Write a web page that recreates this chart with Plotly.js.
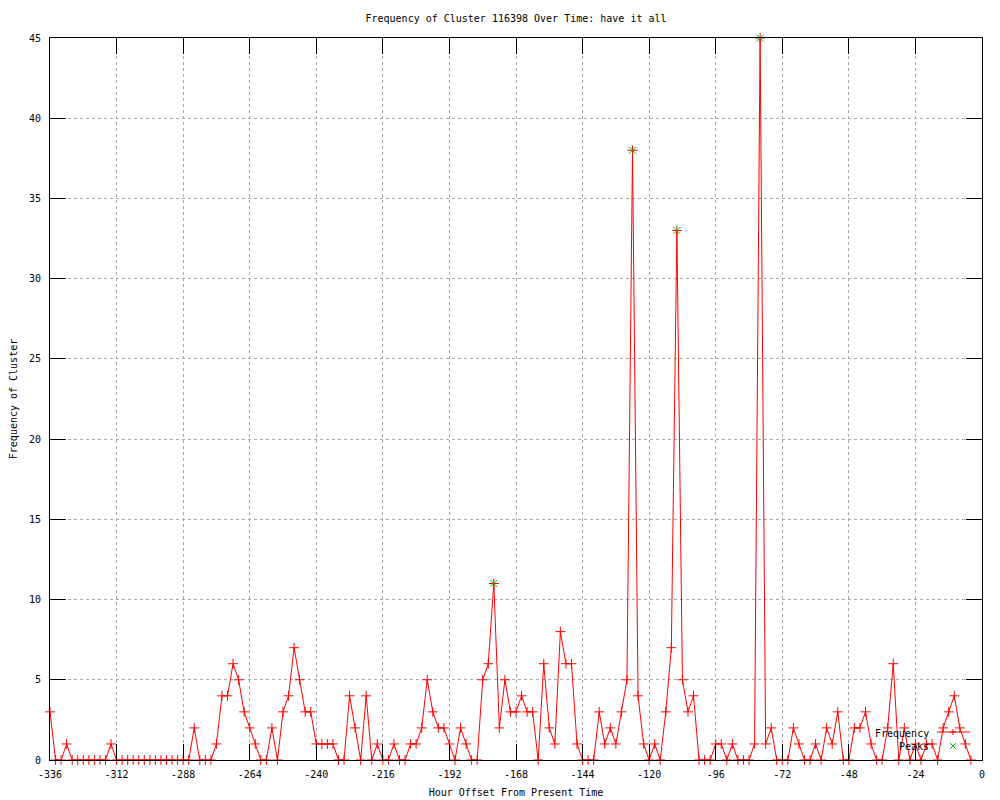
<!DOCTYPE html>
<html>
<head>
<meta charset="utf-8">
<script src="https://cdn.plot.ly/plotly-3.0.1.min.js"></script>
<style>
html,body{margin:0;padding:0;background:#fff;}
#chart{width:1000px;height:800px;}
</style>
</head>
<body>
<div id="chart"></div>
<script>
const hours = [
-336,-334,-332,-330,-328,-326,-324,-322,-320,-318,-316,-314,
-312,-310,-308,-306,-304,-302,-300,-298,-296,-294,-292,-290,
-288,-286,-284,-282,-280,-278,-276,-274,-272,-270,-268,-266,
-264,-262,-260,-258,-256,-254,-252,-250,-248,-246,-244,-242,
-240,-238,-236,-234,-232,-230,-228,-226,-224,-222,-220,-218,
-216,-214,-212,-210,-208,-206,-204,-202,-200,-198,-196,-194,
-192,-190,-188,-186,-184,-182,-180,-178,-176,-174,-172,-170,
-168,-166,-164,-162,-160,-158,-156,-154,-152,-150,-148,-146,
-144,-142,-140,-138,-136,-134,-132,-130,-128,-126,-124,-122,
-120,-118,-116,-114,-112,-110,-108,-106,-104,-102,-100,-98,
-96,-94,-92,-90,-88,-86,-84,-82,-80,-78,-76,-74,
-72,-70,-68,-66,-64,-62,-60,-58,-56,-54,-52,-50,
-48,-46,-44,-42,-40,-38,-36,-34,-32,-30,-28,-26,
-24,-22,-20,-18,-16,-14,-12,-10,-8,-6,-4
];
const frequency = [
3,0,0,1,0,0,0,0,0,0,0,1,
0,0,0,0,0,0,0,0,0,0,0,0,
0,0,2,0,0,0,1,4,4,6,5,3,
2,1,0,0,2,0,3,4,7,5,3,3,
1,1,1,1,0,0,4,2,0,4,0,1,
0,0,1,0,0,1,1,2,5,3,2,2,
1,0,2,1,0,0,5,6,11,2,5,3,
3,4,3,3,0,6,2,1,8,6,6,1,
0,0,0,3,1,2,1,3,5,38,4,1,
0,1,0,3,7,33,5,3,4,0,0,0,
1,1,0,1,0,0,0,1,45,1,2,0,
0,0,2,1,0,0,1,0,2,1,3,0,
0,2,2,3,1,0,0,2,6,0,2,0,
1,0,1,1,0,2,3,4,2,1,0
];
const peakHours = [-176, -126, -110, -80];
const peakValues = [11, 38, 33, 45];
const xTicks = [-336,-312,-288,-264,-240,-216,-192,-168,-144,-120,-96,-72,-48,-24,0];
const yTicks = [0,5,10,15,20,25,30,35,40,45];

const FONT = "DejaVu Sans Mono, Liberation Mono, monospace";
const RED = "#ff0000";
const GREEN = "#00c000";

const traces = [
  {
    x: hours, y: frequency, type: "scatter", mode: "lines+markers",
    name: "Frequency", cliponaxis: false,
    line: {color: RED, width: 1},
    marker: {symbol: "cross-thin-open", size: 7, line: {color: RED, width: 1}, color: RED}
  },
  {
    x: peakHours, y: peakValues, type: "scatter", mode: "markers",
    name: "Peaks", cliponaxis: false,
    marker: {symbol: "x-thin-open", size: 7, line: {color: GREEN, width: 1}, color: GREEN}
  }
];

// legend drawn gnuplot-style (text left, sample right), in paper coordinates
function px(xp){ return (xp - 50) / 932; }
function py(yp){ return (760 - yp) / 722; }

const shapes = [
  {type: "line", xref: "paper", yref: "paper", x0: px(937), x1: px(970), y0: py(732), y1: py(732), line: {color: RED, width: 1}},
  {type: "line", xref: "paper", yref: "paper", x0: px(950), x1: px(956), y0: py(732), y1: py(732), line: {color: RED, width: 1}},
  {type: "line", xref: "paper", yref: "paper", x0: px(953), x1: px(953), y0: py(729), y1: py(735), line: {color: RED, width: 1}},
  {type: "line", xref: "paper", yref: "paper", x0: px(950), x1: px(956), y0: py(743), y1: py(749), line: {color: GREEN, width: 1}},
  {type: "line", xref: "paper", yref: "paper", x0: px(950), x1: px(956), y0: py(749), y1: py(743), line: {color: GREEN, width: 1}}
];

const annotations = [
  {text: "Frequency", xref: "paper", yref: "paper", x: px(931), y: py(733), xanchor: "right", yanchor: "middle", showarrow: false, font: {family: FONT, size: 10, color: "#000"}},
  {text: "Peaks", xref: "paper", yref: "paper", x: px(931), y: py(746), xanchor: "right", yanchor: "middle", showarrow: false, font: {family: FONT, size: 10, color: "#000"}}
];

const axisCommon = {
  showline: true, linecolor: "#000", linewidth: 1, mirror: "ticks",
  ticks: "inside", ticklen: 16, tickwidth: 1, tickcolor: "#000",
  showgrid: true, gridcolor: "#a8a8a8", gridwidth: 1, griddash: "dot",
  zeroline: false, tickfont: {family: FONT, size: 10, color: "#000"},
  automargin: false, fixedrange: true
};

const layout = {
  width: 1000, height: 800,
  paper_bgcolor: "#fff", plot_bgcolor: "#fff",
  margin: {l: 50, r: 18, t: 38, b: 40},
  showlegend: false,
  title: {text: "Frequency of Cluster 116398 Over Time: have it all", x: 0.5, xref: "paper", y: 1 - 18/800, yref: "container", yanchor: "middle", font: {family: FONT, size: 10, color: "#000"}},
  xaxis: Object.assign({}, axisCommon, {
    range: [-336, 0], tickvals: xTicks, ticktext: xTicks.map(String), ticklabelstandoff: 5,
    title: {text: "Hour Offset From Present Time", standoff: 9, font: {family: FONT, size: 10, color: "#000"}}
  }),
  yaxis: Object.assign({}, axisCommon, {
    range: [0, 45], tickvals: yTicks, ticktext: yTicks.map(String), ticklabelstandoff: 6,
    title: {text: "Frequency of Cluster", standoff: 9, font: {family: FONT, size: 10, color: "#000"}}
  }),
  shapes: shapes,
  annotations: annotations
};

Plotly.newPlot("chart", traces, layout, {displayModeBar: false, staticPlot: true});
</script>
</body>
</html>
